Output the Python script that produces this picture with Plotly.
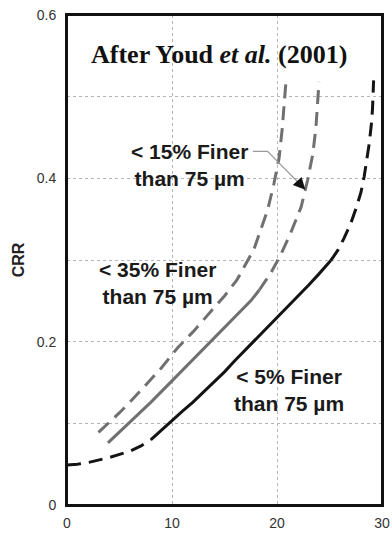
import plotly.graph_objects as go

# ---- data ----
# < 5% fines (black): dashed start, solid middle, dashed top
fc5_n = [0, 1, 2, 3, 4, 5, 6, 7, 8,
         9, 10, 11, 12, 13, 14, 15, 16, 17, 18, 19, 20, 21, 22, 23, 24, 25.1,
         25.8, 26.4, 27.0, 27.5, 28.0, 28.3, 28.6, 28.8, 29.0, 29.1, 29.2]
fc5_crr = [0.049, 0.050, 0.052, 0.055, 0.058, 0.062, 0.066, 0.072, 0.080,
           0.092, 0.104, 0.115, 0.126, 0.138, 0.150, 0.163, 0.177, 0.190, 0.203, 0.217, 0.230, 0.243, 0.256, 0.269, 0.283, 0.299,
           0.312, 0.327, 0.344, 0.362, 0.383, 0.402, 0.425, 0.444, 0.468, 0.486, 0.520]
fc5_solid = (8, 25.1)

# < 15% fines (grey): solid lower part, dashed upper part
fc15_n = [3.9, 6, 8, 10, 12, 14, 16, 17.5, 18.3,
          19.4, 20.3, 21.3, 22.3, 22.9, 23.4, 23.7, 24.0]
fc15_crr = [0.076, 0.101, 0.126, 0.152, 0.178, 0.204, 0.230, 0.250, 0.263,
            0.284, 0.305, 0.333, 0.365, 0.397, 0.429, 0.461, 0.518]
fc15_solid = (3.9, 18.3)

# < 35% fines (grey, dashed)
fc35_n = [3.0, 3.6, 5, 6, 7, 8, 9, 10, 10.5, 12, 13.4, 15, 16.2, 17.8, 19.1, 19.7, 20.2, 20.5, 20.85]
fc35_crr = [0.089, 0.096, 0.113, 0.126, 0.140, 0.154, 0.168, 0.184, 0.192, 0.212, 0.232, 0.256, 0.276, 0.313, 0.361,
            0.393, 0.425, 0.461, 0.518]

x_ticks = [0, 10, 20, 30]
y_ticks = [0, 0.1, 0.2, 0.3, 0.4, 0.5, 0.6]
y_ticktext = ["0", "", "0.2", "", "0.4", "", "0.6"]

BLACK = "#141414"
GREY = "#707070"
DASH = "14px,8px"
W = 3


def seg(xs, ys, lo, hi):
    px = [x for x in xs if lo <= x <= hi]
    py = [y for x, y in zip(xs, ys) if lo <= x <= hi]
    return px, py


fig = go.Figure()


def add(xs, ys, color, dash):
    fig.add_trace(go.Scatter(x=xs, y=ys, mode="lines",
                             line=dict(color=color, width=W, dash=dash),
                             showlegend=False, hoverinfo="skip"))


# 5% curve
lo, hi = fc5_solid
add(*seg(fc5_n, fc5_crr, -1, lo), BLACK, DASH)
add(*seg(fc5_n, fc5_crr, lo, hi), BLACK, "solid")
add(*seg(fc5_n, fc5_crr, hi, 99), BLACK, DASH)

# 15% curve
lo, hi = fc15_solid
add(*seg(fc15_n, fc15_crr, lo, hi), GREY, "solid")
add(*seg(fc15_n, fc15_crr, hi, 99), GREY, DASH)

# 35% curve
add(fc35_n, fc35_crr, GREY, DASH)

LBL = dict(family="Liberation Sans, Arial, sans-serif", size=21, color="#1a1a1a")

annotations = [
    dict(x=14.5, y=0.552, xref="x", yref="y", showarrow=False,
         text="<b>After Youd <i>et al.</i> (2001)</b>",
         font=dict(family="Liberation Serif, Times New Roman, serif", size=26, color="#111")),
    dict(x=11.7, y=0.416, xref="x", yref="y", showarrow=False, align="center",
         text="<b>&lt; 15% Finer<br>than 75 µm</b>", font=LBL),
    dict(x=8.6, y=0.272, xref="x", yref="y", showarrow=False, align="center",
         text="<b>&lt; 35% Finer<br>than 75 µm</b>", font=LBL),
    dict(x=21.1, y=0.141, xref="x", yref="y", showarrow=False, align="center",
         text="<b>&lt; 5% Finer<br>than 75 µm</b>", font=LBL),
    # arrowhead of the 15% leader
    dict(x=22.7, y=0.386, ax=21.9, ay=0.397, xref="x", yref="y", axref="x", ayref="y",
         showarrow=True, arrowhead=2, arrowsize=1.6, arrowwidth=1.5, arrowcolor="#111", text=""),
]

shapes = [
    dict(type="path", xref="x", yref="y",
         path="M 17.7 0.433 L 19.1 0.433 L 22.1 0.394",
         line=dict(color="#9a9a9a", width=1.2)),
    dict(type="rect", xref="paper", yref="paper", x0=0, y0=0, x1=1, y1=1,
         line=dict(color="#111", width=2), layer="above"),
]

fig.update_layout(
    width=392, height=533,
    margin=dict(l=67, r=10, t=15, b=28, autoexpand=False),
    paper_bgcolor="white", plot_bgcolor="white",
    annotations=annotations, shapes=shapes,
    font=dict(family="Liberation Sans, Arial, sans-serif", size=14, color="#333"),
    xaxis=dict(range=[0, 30], tickvals=x_ticks, ticktext=[str(v) for v in x_ticks],
               showgrid=True, gridcolor="#b5b5b5", gridwidth=1, griddash="dot",
               showline=True, mirror=True, linecolor="#111", linewidth=2,
               zeroline=False, ticks="", ticklabelstandoff=4, automargin=False,
               tickfont=dict(size=14, color="#333")),
    yaxis=dict(range=[0, 0.6], tickvals=y_ticks, ticktext=y_ticktext,
               showgrid=True, gridcolor="#b5b5b5", gridwidth=1, griddash="dot",
               showline=True, mirror=True, linecolor="#111", linewidth=2,
               zeroline=False, ticks="", ticklabelstandoff=6, automargin=False,
               tickfont=dict(size=14, color="#333"),
               title=dict(text="<b>CRR</b>", standoff=8,
                          font=dict(size=16, color="#222"))),
)

fig.write_html("out.html", config={"displayModeBar": False},
               post_script="document.body.style.margin='0px';document.body.style.overflow='hidden';")
